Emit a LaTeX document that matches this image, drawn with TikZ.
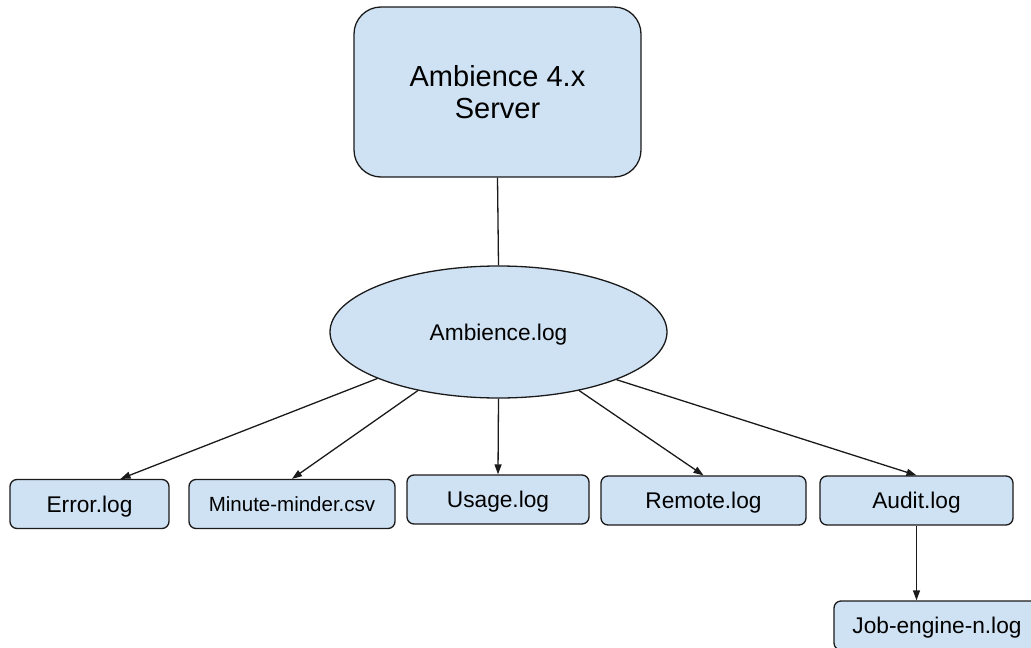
\documentclass[tikz,border=0pt]{standalone}
\usepackage{fontspec}
\setmainfont{Liberation Sans}
\usetikzlibrary{shapes.geometric,arrows.meta,calc}
\definecolor{boxfill}{HTML}{CFE2F3}
\definecolor{edge}{HTML}{1A1A1A}
\begin{document}
\begin{tikzpicture}[x=1pt,y=-1pt,
  logbox/.style={draw=edge,fill=boxfill,line width=1.3pt,rounded corners=7pt,inner sep=0pt,
    minimum height=49pt,text depth=0pt,font=\fontsize{22.7}{26}\selectfont},
  conn/.style={draw=edge,line width=1.3pt},
  arr/.style={conn,-{Triangle[length=10pt,width=7pt]}}]
\useasboundingbox (0,0) rectangle (1031,648);
\clip (0,0) rectangle (1031,648);
\node[draw=edge,fill=boxfill,line width=1.3pt,rounded corners=27pt,minimum width=287pt,minimum height=170pt,
  inner sep=0pt,align=center,font=\fontsize{29}{32.5}\selectfont] (srv) at (497.5,92) {Ambience 4.x\\Server};
\node[ellipse,draw=edge,fill=boxfill,line width=1.3pt,minimum width=337pt,minimum height=132pt,inner sep=0pt,
  text depth=0pt,font=\fontsize{22.7}{26}\selectfont] (amb) at (498.5,332) {Ambience.log};
\node[logbox,minimum width=159pt] (err) at (89.5,504) {Error.log};
\node[logbox,minimum width=206pt,font=\fontsize{20.5}{24}\selectfont] (min) at (292,504) {Minute-minder.csv};
\node[logbox,minimum width=182pt] (use) at (498,499.5) {Usage.log};
\node[logbox,minimum width=205pt] (rem) at (703.5,500.5) {Remote.log};
\node[logbox,minimum width=193pt] (aud) at (916.5,500.5) {Audit.log};
\node[logbox,minimum width=206pt] (job) at (937,625.5) {Job-engine-n.log};
\draw[conn] (srv.south) -- (amb.north);
\draw[arr] (amb.201.8) -- ([xshift=31pt]err.north);
\draw[arr] (amb.216.5) -- (min.north);
\draw[arr] (amb.south) -- (use.north);
\draw[arr] (amb.324.3) -- (rem.north);
\draw[arr] (amb.338.8) -- (aud.north);
\draw[arr] (aud.south) -- (aud.south |- job.north);
\end{tikzpicture}
\end{document}
